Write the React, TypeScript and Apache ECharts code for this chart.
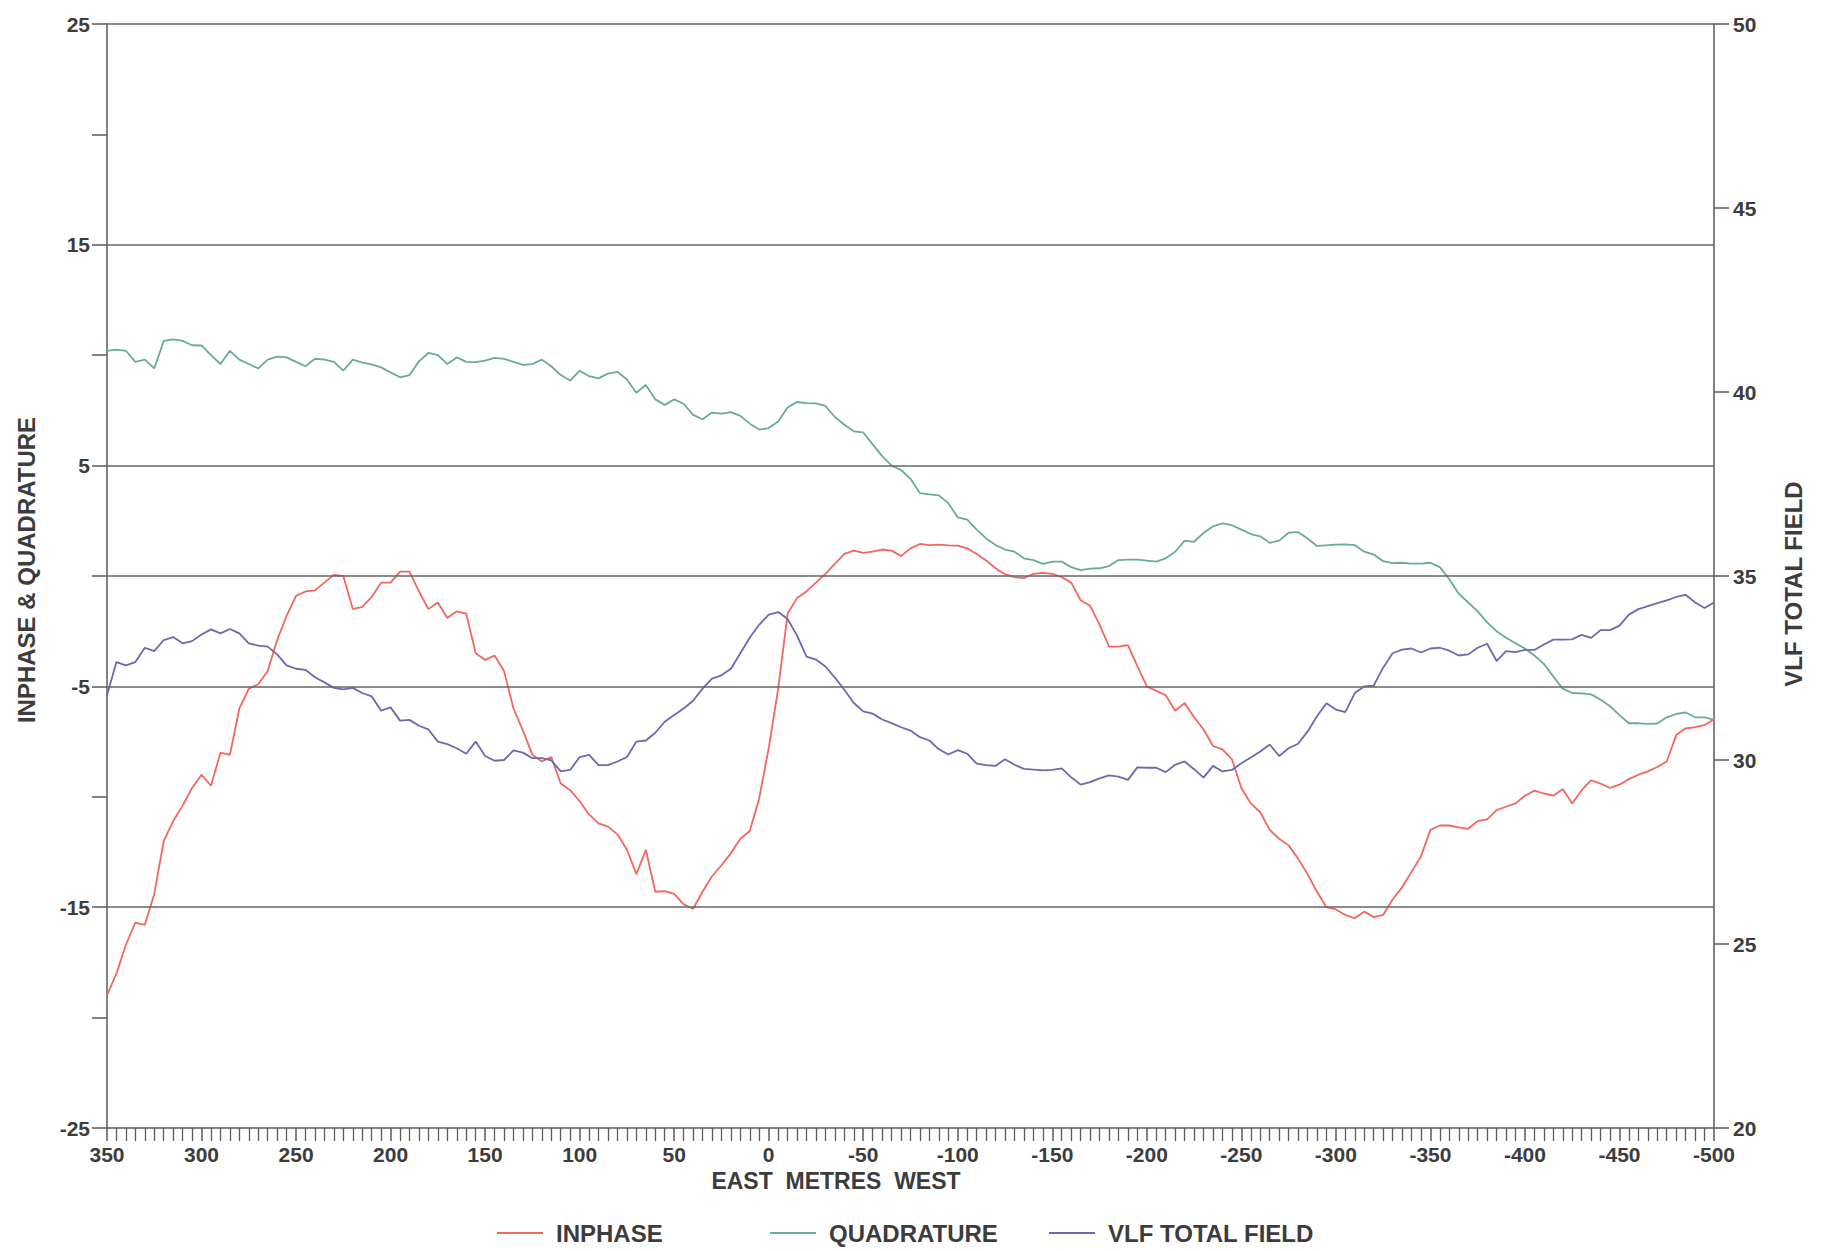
import { useEffect, useRef } from "react";
import * as echarts from "echarts";

// distance along line, metres (East positive, West negative), 5 m stations
const distance: number[] = Array.from({ length: 171 }, (_, i) => 350 - 5 * i);

const inphase: number[] = [
  -19.0, -18.0, -16.7, -15.7, -15.8, -14.4, -12.0, -11.1, -10.4, -9.6,
  -9.0, -9.5, -8.0, -8.1, -6.0, -5.1, -4.9, -4.3, -2.9, -1.8,
  -0.9, -0.7, -0.65, -0.3, 0.05, 0.0, -1.5, -1.4, -0.95, -0.3,
  -0.3, 0.2, 0.2, -0.7, -1.5, -1.2, -1.9, -1.6, -1.7, -3.5,
  -3.8, -3.6, -4.3, -6.0, -7.0, -8.1, -8.4, -8.2, -9.4, -9.7,
  -10.2, -10.8, -11.2, -11.35, -11.7, -12.4, -13.5, -12.4, -14.3, -14.27,
  -14.4, -14.87, -15.07, -14.3, -13.6, -13.1, -12.55, -11.9, -11.55, -10.05,
  -7.8, -5.1, -1.7, -1.0, -0.7, -0.3, 0.1, 0.55, 1.0, 1.15,
  1.05, 1.1, 1.2, 1.15, 0.9, 1.25, 1.45, 1.4, 1.42, 1.39,
  1.38, 1.25, 1.0, 0.7, 0.35, 0.08, -0.05, -0.1, 0.1, 0.14,
  0.1, -0.05, -0.3, -1.1, -1.35, -2.2, -3.2, -3.2, -3.13, -4.08,
  -5.0, -5.2, -5.4, -6.1, -5.75, -6.4, -6.95, -7.7, -7.85, -8.3,
  -9.6, -10.3, -10.7, -11.5, -11.9, -12.2, -12.8, -13.5, -14.3, -15.0,
  -15.1, -15.35, -15.5, -15.2, -15.45, -15.35, -14.65, -14.1, -13.4, -12.7,
  -11.5, -11.3, -11.3, -11.38, -11.45, -11.1, -11.02, -10.6, -10.45, -10.3,
  -9.95, -9.72, -9.85, -9.95, -9.65, -10.3, -9.7, -9.25, -9.4, -9.6,
  -9.45, -9.2, -9.0, -8.85, -8.65, -8.4, -7.2, -6.9, -6.85, -6.75,
  -6.5,
];

const quadrature: number[] = [
  10.2, 10.25, 10.2, 9.7, 9.8, 9.4, 10.65, 10.72, 10.65, 10.45,
  10.44, 10.0, 9.6, 10.2, 9.8, 9.6, 9.4, 9.8, 9.94, 9.9,
  9.7, 9.5, 9.84, 9.8, 9.7, 9.3, 9.8, 9.66, 9.58, 9.45,
  9.22, 9.0, 9.1, 9.72, 10.1, 10.0, 9.6, 9.9, 9.7, 9.69,
  9.75, 9.88, 9.83, 9.7, 9.56, 9.6, 9.8, 9.5, 9.1, 8.85,
  9.3, 9.05, 8.95, 9.17, 9.25, 8.9, 8.3, 8.65, 8.0, 7.75,
  8.0, 7.8, 7.3, 7.1, 7.4, 7.35, 7.42, 7.25, 6.9, 6.63,
  6.7, 7.0, 7.63, 7.88, 7.83, 7.82, 7.7, 7.2, 6.85, 6.55,
  6.5, 5.96, 5.43, 5.0, 4.8, 4.4, 3.75, 3.7, 3.65, 3.3,
  2.65, 2.55, 2.1, 1.7, 1.4, 1.2, 1.1, 0.8, 0.72, 0.55,
  0.65, 0.65, 0.4, 0.27, 0.33, 0.35, 0.45, 0.72, 0.74, 0.74,
  0.7, 0.65, 0.8, 1.1, 1.6, 1.55, 1.95, 2.25, 2.38, 2.3,
  2.1, 1.9, 1.8, 1.5, 1.6, 1.96, 1.99, 1.7, 1.36, 1.39,
  1.42, 1.43, 1.4, 1.1, 0.97, 0.67, 0.58, 0.6, 0.56, 0.56,
  0.6, 0.4, -0.15, -0.8, -1.2, -1.6, -2.1, -2.5, -2.8, -3.05,
  -3.28, -3.6, -3.98, -4.55, -5.1, -5.3, -5.32, -5.36, -5.6, -5.9,
  -6.3, -6.67, -6.67, -6.7, -6.68, -6.4, -6.25, -6.18, -6.4, -6.4,
  -6.5,
];

const vlfTotalField: number[] = [
  31.76, 32.66, 32.57, 32.66, 33.05, 32.96, 33.26, 33.34, 33.17, 33.23,
  33.41, 33.55, 33.44, 33.56, 33.44, 33.17, 33.11, 33.08, 32.87, 32.57,
  32.48, 32.45, 32.25, 32.11, 31.96, 31.92, 31.96, 31.82, 31.73, 31.34,
  31.43, 31.07, 31.09, 30.93, 30.83, 30.5, 30.43, 30.32, 30.17, 30.5,
  30.11, 29.98, 30.0, 30.26, 30.2, 30.05, 30.05, 29.99, 29.69, 29.73,
  30.08, 30.14, 29.86, 29.86, 29.96, 30.08, 30.5, 30.53, 30.74, 31.04,
  31.22, 31.4, 31.61, 31.94, 32.21, 32.3, 32.48, 32.9, 33.33, 33.68,
  33.95, 34.02, 33.83, 33.38, 32.81, 32.73, 32.54, 32.24, 31.91, 31.55,
  31.32, 31.26, 31.1, 31.0, 30.89, 30.8, 30.62, 30.53, 30.29, 30.15,
  30.27, 30.17, 29.9, 29.86, 29.84, 30.02, 29.87, 29.76, 29.74, 29.72,
  29.73, 29.77, 29.53, 29.33, 29.4, 29.5, 29.58, 29.55, 29.46, 29.8,
  29.79, 29.79, 29.67, 29.87, 29.96, 29.75, 29.52, 29.84, 29.69, 29.73,
  29.91, 30.07, 30.23, 30.42, 30.11, 30.32, 30.44, 30.77, 31.19, 31.54,
  31.37, 31.3, 31.82, 32.0, 32.02, 32.51, 32.9, 33.0, 33.03, 32.92,
  33.03, 33.05, 32.97, 32.84, 32.87, 33.05, 33.16, 32.69, 32.96, 32.93,
  32.99, 32.99, 33.14, 33.27, 33.27, 33.28, 33.4, 33.32, 33.53, 33.53,
  33.65, 33.95, 34.1, 34.18, 34.26, 34.34, 34.43, 34.49, 34.28, 34.13,
  34.28,
];

const leftLabelValues: number[] = [-25, -15, -5, 5, 15, 25];
const horizontalLines: number[] = [25, 15, 5, 0, -5, -15];

const FONT = "'Liberation Sans Narrow', 'Liberation Sans', Arial, sans-serif";
const TEXT = "#3c3c3c";
const AXIS = "#5a5a5a";
const RED = "#f2675e";
const GREEN = "#6aab94";
const BLUE = "#6a6aae";

export default function App() {
  const ref = useRef<HTMLDivElement>(null);

  useEffect(() => {
    if (!ref.current) return;
    const chart = echarts.init(ref.current, null, { renderer: "svg" });

    const labelStyle = {
      color: TEXT,
      fontFamily: FONT,
      fontWeight: "bold" as const,
      fontSize: 21,
    };

    const legendBase = {
      top: 1216,
      itemWidth: 46,
      itemHeight: 2,
      icon: "rect",
      textStyle: { ...labelStyle, fontSize: 24, padding: [0, 0, 0, 8] },
      selectedMode: false,
    };

    chart.setOption({
      animation: false,
      backgroundColor: "#ffffff",
      grid: { left: 107, right: 110, top: 24, bottom: 123, containLabel: false },
      xAxis: {
        type: "value",
        min: -500,
        max: 350,
        interval: 50,
        inverse: true,
        axisLine: { show: true, onZero: false, lineStyle: { color: AXIS, width: 1.5 } },
        axisTick: { show: true, length: 13, lineStyle: { color: AXIS, width: 1.5 } },
        minorTick: { show: true, splitNumber: 10, length: 13, lineStyle: { color: AXIS, width: 1.3 } },
        axisLabel: { ...labelStyle, margin: 16 },
        splitLine: { show: false },
      },
      yAxis: [
        {
          type: "value",
          min: -25,
          max: 25,
          interval: 5,
          position: "left",
          axisLine: { show: true, onZero: false, lineStyle: { color: AXIS, width: 1.5 } },
          axisTick: { show: true, length: 15, lineStyle: { color: AXIS, width: 1.5 } },
          axisLabel: {
            ...labelStyle,
            margin: 17,
            formatter: (v: number) => (leftLabelValues.includes(v) ? String(v) : ""),
          },
          splitLine: { show: false },
        },
        {
          type: "value",
          min: 20,
          max: 50,
          interval: 5,
          position: "right",
          axisLine: { show: true, onZero: false, lineStyle: { color: AXIS, width: 1.5 } },
          axisTick: { show: true, length: 15, lineStyle: { color: AXIS, width: 1.5 } },
          axisLabel: { ...labelStyle, margin: 19 },
          splitLine: { show: false },
        },
      ],
      legend: [
        { ...legendBase, left: 492, data: ["INPHASE"] },
        { ...legendBase, left: 765, data: ["QUADRATURE"] },
        { ...legendBase, left: 1044, data: ["VLF TOTAL FIELD"] },
      ],
      graphic: [
        {
          type: "text",
          x: 26,
          y: 570,
          rotation: Math.PI / 2,
          style: {
            text: "INPHASE & QUADRATURE",
            fill: TEXT,
            font: `bold 24px ${FONT}`,
            textAlign: "center",
            textVerticalAlign: "middle",
          },
        },
        {
          type: "text",
          x: 1793,
          y: 584,
          rotation: Math.PI / 2,
          style: {
            text: "VLF TOTAL FIELD",
            fill: TEXT,
            font: `bold 24px ${FONT}`,
            textAlign: "center",
            textVerticalAlign: "middle",
          },
        },
        {
          type: "text",
          x: 836,
          y: 1181,
          style: {
            text: "EAST  METRES  WEST",
            fill: TEXT,
            font: `bold 23px ${FONT}`,
            textAlign: "center",
            textVerticalAlign: "middle",
          },
        },
      ],
      series: [
        {
          name: "GRID",
          type: "line",
          yAxisIndex: 0,
          data: [],
          silent: true,
          z: 1,
          markLine: {
            silent: true,
            symbol: ["none", "none"],
            label: { show: false },
            lineStyle: { color: "#666", width: 1.5, type: "solid" },
            data: horizontalLines.map((v) => ({ yAxis: v })),
          },
        },
        {
          name: "INPHASE",
          type: "line",
          yAxisIndex: 0,
          symbol: "none",
          z: 3,
          lineStyle: { color: RED, width: 1.8 },
          itemStyle: { color: RED },
          data: distance.map((d, i) => [d, inphase[i]]),
        },
        {
          name: "QUADRATURE",
          type: "line",
          yAxisIndex: 0,
          symbol: "none",
          z: 3,
          lineStyle: { color: GREEN, width: 1.8 },
          itemStyle: { color: GREEN },
          data: distance.map((d, i) => [d, quadrature[i]]),
        },
        {
          name: "VLF TOTAL FIELD",
          type: "line",
          yAxisIndex: 1,
          symbol: "none",
          z: 3,
          lineStyle: { color: BLUE, width: 1.8 },
          itemStyle: { color: BLUE },
          data: distance.map((d, i) => [d, vlfTotalField[i]]),
        },
      ],
    });

    return () => chart.dispose();
  }, []);

  return (
    <div
      ref={ref}
      style={{ position: "absolute", left: 0, top: 0, width: "1824px", height: "1251px", background: "#fff" }}
    />
  );
}
